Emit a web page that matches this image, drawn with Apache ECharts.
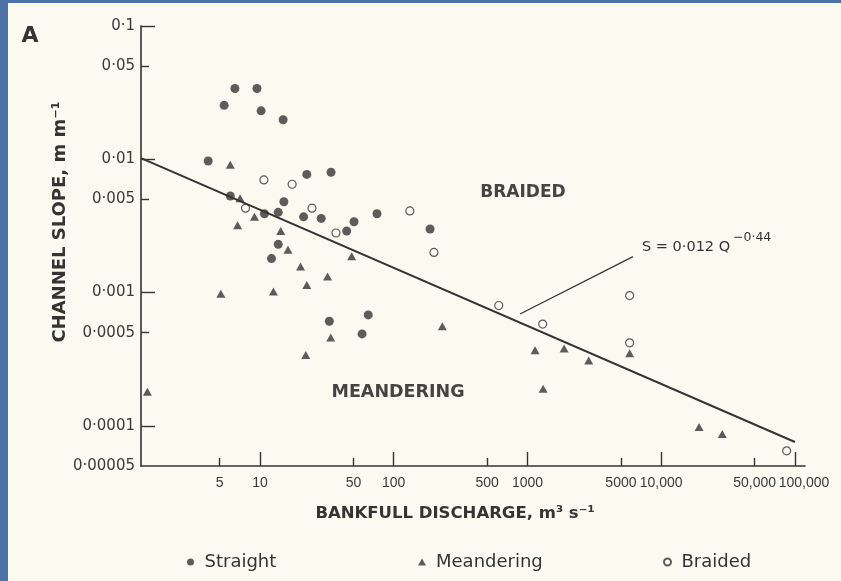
<!DOCTYPE html>
<html>
<head>
<meta charset="utf-8">
<title>Channel slope vs bankfull discharge</title>
<script src="https://cdn.jsdelivr.net/npm/echarts@6/dist/echarts.min.js"></script>
<style>
  html, body { margin: 0; padding: 0; }
  body { width: 841px; height: 581px; background: #4d72a6; position: relative; overflow: hidden; }
  #paper { position: absolute; left: 8px; top: 3px; right: 0; bottom: 0; background: #fbfaf1; }
  #chart { position: absolute; left: 0; top: 0; width: 841px; height: 581px; }
</style>
</head>
<body>
<div id="paper"></div>
<div id="chart"></div>
<script>
// bankfull discharge Q (m3/s) and channel slope S (m/m)
const straightQ = [6.5, 9.5, 5.4, 10.2, 14.9, 4.1, 22.4, 34, 6.0, 15.1, 10.8, 13.7, 21.2, 28.7, 75, 50.5, 44.5, 13.7, 12.2, 33, 64.5, 58, 187]
const straightS = [0.034, 0.034, 0.0254, 0.0231, 0.0198, 0.0097, 0.0077, 0.0080, 0.0053, 0.0048, 0.0039, 0.0040, 0.0037, 0.0036, 0.0039, 0.0034, 0.0029, 0.0023, 0.0018, 0.00061, 0.00068, 0.00049, 0.0030]

const meanderQ = [1.44, 6.0, 7.1, 6.8, 9.1, 14.3, 16.2, 20.1, 22.4, 32, 5.1, 12.6, 33.8, 22, 48.5, 231, 1140, 1880, 2870, 5810, 1310, 19200, 28600]
const meanderS = [0.00018, 0.0091, 0.0051, 0.0032, 0.0037, 0.0029, 0.0021, 0.00157, 0.00114, 0.00132, 0.00098, 0.00102, 0.00046, 0.00034, 0.00187, 0.00056, 0.00037, 0.00038, 0.00031, 0.00035, 0.00019, 0.000098, 0.000087]

const braidQ = [10.7, 17.4, 7.8, 24.5, 37, 132, 200, 610, 1300, 5810, 5810, 86700]
const braidS = [0.0070, 0.0065, 0.0043, 0.0043, 0.0028, 0.0041, 0.0020, 0.00080, 0.00058, 0.00095, 0.00042, 0.000065]

// fitted line S = 0.012 Q^-0.44, end points as drawn
const fitQ = [1.29, 100000]
const fitS = [0.0102, 0.0000757]
// leader from the equation down to the line
const leadQ = [880, 6150]
const leadS = [0.00069, 0.00186]

// axes (log scales, drawn on value axes in log10 space)
const xRange = [1.29, 118900]
const yRange = [0.00005, 0.1]
const xMajor = [10, 100, 1000, 10000, 100000]
const xMinor = [5, 50, 500, 5000, 50000]
const xTickVals = [5, 10, 50, 100, 500, 1000, 5000, 10000, 50000, 100000]
const xTickText = ['5', '10', '50', '100', '500', '1000', '5000', '10,000', '50,000', '{r|100,000}']
const yMajor = [0.1, 0.01, 0.001, 0.0001]
const yMinor = [0.05, 0.005, 0.0005]
const yTickVals = [0.1, 0.05, 0.01, 0.005, 0.001, 0.0005, 0.0001, 0.00005]
const yTickText = ['0·1', '0·05', '0·01', '0·005', '0·001', '0·0005', '0·0001', '0·00005']

const INK = '#343434'
const PAPER = '#fbfaf1'
const lg = Math.log10
const pts = (q, s) => q.map((v, i) => [lg(v), lg(s[i])])
const labelFor = (vals, text) => v => {
  const i = vals.findIndex(t => Math.abs(lg(t) - v) < 1e-6)
  return i < 0 ? '' : text[i]
}

const chart = echarts.init(document.getElementById('chart'))

const axisBase = {
  type: 'value',
  splitLine: { show: false },
  axisLine: { onZero: false, lineStyle: { color: INK, width: 1.6 } },
}
const tickLine = { color: INK, width: 1.4 }

chart.setOption({
  animation: false,
  textStyle: { fontFamily: 'DejaVu Sans', color: INK },
  grid: { left: 141, top: 26, width: 664, height: 440 },
  xAxis: [{
    ...axisBase,
    position: 'bottom',
    min: lg(xRange[0]), max: lg(xRange[1]),
    axisTick: { inside: true, length: 14, customValues: xMajor.map(lg), lineStyle: tickLine },
    axisLabel: {
      customValues: xTickVals.map(lg), formatter: labelFor(xTickVals, xTickText),
      hideOverlap: false, margin: 10, fontFamily: 'Liberation Sans', fontSize: 14, color: '#3a3a3a',
      rich: { r: { fontFamily: 'Liberation Sans', fontSize: 14, color: '#3a3a3a', padding: [0, 0, 0, 18] } },
    },
  }, {
    ...axisBase,
    position: 'bottom',
    min: lg(xRange[0]), max: lg(xRange[1]),
    axisLine: { show: false },
    axisTick: { inside: true, length: 8, customValues: xMinor.map(lg), lineStyle: tickLine },
    axisLabel: { show: false },
  }],
  yAxis: [{
    ...axisBase,
    position: 'left',
    min: lg(yRange[0]), max: lg(yRange[1]),
    axisTick: { inside: true, length: 14, customValues: yMajor.map(lg), lineStyle: tickLine },
    axisLabel: {
      customValues: yTickVals.map(lg), formatter: labelFor(yTickVals, yTickText),
      hideOverlap: false, margin: 6, fontSize: 15, color: '#3a3a3a',
    },
  }, {
    ...axisBase,
    position: 'left',
    min: lg(yRange[0]), max: lg(yRange[1]),
    axisLine: { show: false },
    axisTick: { inside: true, length: 8, customValues: yMinor.map(lg), lineStyle: tickLine },
    axisLabel: { show: false },
  }],
  legend: [
    { data: ['Straight'], left: 187 },
    { data: ['Meandering'], left: 418 },
    { data: ['Braided'], left: 663 },
  ].map(l => ({
    ...l, top: 553, padding: 0, itemWidth: 8, itemHeight: 7,
    textStyle: { fontSize: 18, color: INK, padding: [0, 0, 0, 5] },
  })),
  series: [
    {
      name: 'Straight', type: 'scatter', symbol: 'circle', symbolSize: 9,
      itemStyle: { color: INK }, data: pts(straightQ, straightS),
    },
    {
      name: 'Meandering', type: 'scatter', symbol: 'triangle', symbolSize: [9, 8],
      itemStyle: { color: INK }, data: pts(meanderQ, meanderS),
    },
    {
      name: 'Braided', type: 'scatter', symbol: 'circle', symbolSize: 8,
      itemStyle: { color: PAPER, borderColor: INK, borderWidth: 1.2 }, data: pts(braidQ, braidS),
    },
    {
      type: 'line', symbol: 'none', silent: true,
      lineStyle: { color: INK, width: 2 }, data: pts(fitQ, fitS),
    },
    {
      type: 'line', symbol: 'none', silent: true,
      lineStyle: { color: INK, width: 1.2 }, data: pts(leadQ, leadS),
    },
  ],
  graphic: [
    { type: 'text', x: 30, y: 36, style: { text: 'A', font: 'bold 22px DejaVu Sans', fill: INK, align: 'center', verticalAlign: 'middle' } },
    { type: 'text', x: 523, y: 193, style: { text: 'BRAIDED', font: 'bold 17px DejaVu Sans', fill: '#444', align: 'center', verticalAlign: 'middle' } },
    { type: 'text', x: 398, y: 392, style: { text: 'MEANDERING', font: 'bold 17.5px DejaVu Sans', fill: '#444', align: 'center', verticalAlign: 'middle' } },
    { type: 'text', x: 642, y: 247, style: { text: 'S = 0·012 Q', font: '14.5px DejaVu Sans', fill: INK, align: 'left', verticalAlign: 'middle' } },
    { type: 'text', x: 733, y: 238, style: { text: '−0·44', font: '12.5px DejaVu Sans', fill: INK, align: 'left', verticalAlign: 'middle' } },
    { type: 'text', x: 455, y: 514, style: { text: 'BANKFULL DISCHARGE, m³ s⁻¹', font: 'bold 16.5px DejaVu Sans', fill: INK, align: 'center', verticalAlign: 'middle' } },
    { type: 'text', x: 60, y: 222, rotation: Math.PI / 2, style: { text: 'CHANNEL SLOPE, m m⁻¹', font: 'bold 18px DejaVu Sans', fill: INK, align: 'center', verticalAlign: 'middle' } },
  ],
})
</script>
</body>
</html>
